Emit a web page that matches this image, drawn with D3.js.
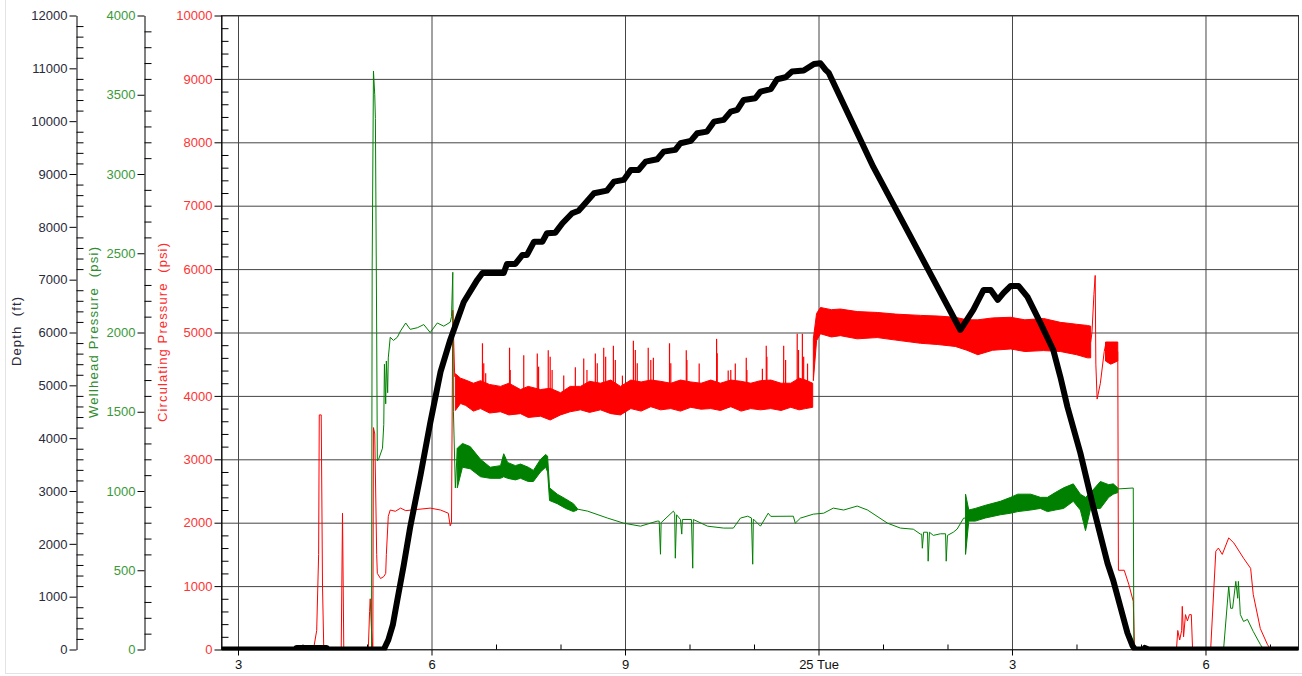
<!DOCTYPE html>
<html><head><meta charset="utf-8">
<script src="https://cdn.jsdelivr.net/npm/d3@7"></script>
<style>
body{margin:0;background:#fff}
svg{display:block}
text{font-family:"Liberation Sans",Arial,sans-serif}
</style>
</head><body>
<svg id="c" width="1302" height="676"></svg>
<script>
// ---------- DATA (time in hours since 24th 00:00) ----------
const xTickHours  = [15, 18, 21, 24, 27, 30];
const xTickLabels = ["3", "6", "9", "25 Tue", "3", "6"];
const xMinorHours = [16, 17, 19, 20, 22, 23, 25, 26, 28, 29, 31];

const depthTicks = [0,1000,2000,3000,4000,5000,6000,7000,8000,9000,10000,11000,12000];
const wellTicks  = [0,500,1000,1500,2000,2500,3000,3500,4000];
const circTicks  = [0,1000,2000,3000,4000,5000,6000,7000,8000,9000,10000];

// Bit depth (ft)
const depthT = [14.74,15.88,15.91,16.37,16.40,17.26,17.33,17.40,17.47,17.57,17.67,17.83,17.98,18.14,18.29,18.50,18.71,18.79,19.12,19.17,19.30,19.41,19.48,19.59,19.72,19.79,19.92,20.03,20.18,20.28,20.36,20.52,20.72,20.83,20.98,21.09,21.21,21.32,21.50,21.60,21.78,21.86,22.02,22.12,22.27,22.38,22.53,22.64,22.74,22.84,23.02,23.10,23.26,23.36,23.49,23.59,23.77,23.93,24.03,24.11,24.16,24.85,25.43,26.20,26.40,26.56,26.67,26.78,26.87,26.98,27.10,27.24,27.44,27.64,27.75,27.86,28.06,28.26,28.48,28.57,28.79,28.87,28.91,29.04,29.06,29.12,31.44];
const depthV = [0,0,30,30,0,0,180,464,937,1600,2319,3303,4288,5253,5859,6578,6995,7128,7128,7298,7298,7468,7468,7720,7720,7879,7890,8068,8257,8306,8414,8636,8685,8855,8888,9077,9077,9234,9280,9423,9456,9582,9626,9772,9802,9991,10024,10181,10213,10402,10434,10559,10605,10794,10832,10938,10957,11084,11097,10970,10913,9134,7809,6048,6427,6806,6806,6617,6749,6882,6882,6673,6181,5670,5159,4590,3720,2697,1637,1306,312,66,0,0,30,0,0];

// Circulating pressure (psi) - thin line segments
const circA_T = [14.74,16.17,16.22,16.25,16.26,16.29,16.31,16.33,16.60,16.62,16.64,17.02,17.04,17.05,17.07,17.09,17.10,17.12,17.15,17.16,17.21,17.26,17.29,17.30,17.33,17.36,17.44,17.52,17.60,17.98,18.14,18.26,18.29,18.31,18.33,18.36];
const circA_V = [0,0,300,1500,3700,3700,1000,0,0,2150,0,0,600,800,300,0,3500,3400,1500,1200,1120,1150,1200,1500,2100,2200,2180,2230,2190,2230,2200,2150,1950,2000,5350,4300];
// Circulating pressure noisy band 1 (drilling)
const circB1_T  = [18.37,18.45,18.53,18.65,18.76,18.90,19.07,19.20,19.38,19.50,19.69,19.84,20.00,20.15,20.31,20.45,20.62,20.78,20.93,21.09,21.25,21.40,21.55,21.71,21.86,22.02,22.18,22.33,22.48,22.64,22.80,22.95,23.10,23.26,23.42,23.57,23.70,23.80,23.91];
const circB1_Lo = [3770,3880,3850,3760,3800,3730,3750,3700,3720,3660,3680,3620,3700,3750,3780,3740,3780,3720,3700,3800,3760,3830,3780,3800,3760,3820,3790,3800,3770,3830,3760,3800,3780,3800,3770,3820,3780,3800,3820];
const circB1_Hi = [4350,4280,4250,4200,4240,4180,4150,4200,4100,4150,4100,4120,4050,4150,4150,4230,4200,4250,4150,4250,4220,4250,4230,4200,4250,4220,4200,4250,4200,4250,4230,4200,4240,4250,4200,4200,4280,4250,4200];
// Connection spikes on band 1
const circSpikeT = [18.79,18.81,18.84,19.21,19.22,19.43,19.64,19.66,19.81,19.84,19.87,20.05,20.23,20.36,20.41,20.54,20.57,20.67,20.70,20.82,20.85,20.96,21.13,21.16,21.19,21.36,21.40,21.44,21.69,21.71,21.95,21.96,22.15,22.42,22.43,22.60,22.64,22.71,22.88,22.89,23.13,23.19,23.20,23.46,23.49,23.67,23.69,23.75,23.77,23.83];
const circSpikeV = [4830,4514,4357,4760,4409,4640,4670,4461,4720,4619,4409,4320,4450,4590,4409,4670,4514,4760,4619,4790,4566,4320,4870,4724,4514,4760,4566,4600,4830,4514,4720,4566,4510,4900,4672,4400,4409,4510,4600,4409,4430,4790,4619,4790,4566,4980,4724,4980,4619,4510];
// Circulating pressure band 2 (tripping out)
const circB2_T  = [23.92,23.97,24.03,24.20,24.34,24.60,24.91,25.20,25.58,25.85,26.12,26.30,26.47,26.70,26.98,27.20,27.49,27.75,28.00,28.17,28.22];
const circB2_Lo = [4240,4870,4980,4930,4950,4900,4920,4880,4830,4810,4780,4720,4650,4720,4740,4700,4715,4700,4650,4600,4600];
const circB2_Hi = [4900,5300,5395,5360,5370,5330,5316,5290,5270,5260,5240,5200,5200,5230,5240,5200,5221,5160,5130,5111,5100];
const circC_T = [28.22,28.24,28.27,28.29,28.30,28.32,28.37,28.43,28.45];
const circC_V = [4850,5000,5600,5900,4500,3950,4200,4700,4800];
const circB3_T  = [28.45,28.53,28.64];
const circB3_Lo = [4550,4500,4550];
const circB3_Hi = [4850,4850,4850];
const circD_T = [28.64,28.65,28.74,28.81,28.88,28.90,29.55,29.57,29.60,29.63,29.64,29.66,29.69,29.72,29.75,29.78,29.80,30.08,30.16,30.20,30.26,30.36,30.44,30.59,30.70,30.74,30.85,30.96,31.01,31.44];
const circD_V = [4700,1250,1250,1030,760,0,0,300,150,300,680,200,550,450,550,550,0,0,1550,1600,1500,1760,1680,1440,1280,870,330,80,0,0];

// Wellhead pressure (psi)
const wellA_T = [14.74,17.07,17.08,17.10,17.12,17.13,17.15,17.16,17.18,17.24,17.26,17.27,17.29,17.30,17.32,17.33,17.36,17.41,17.47,17.52,17.60,17.67,17.78,17.88,17.98,18.09,18.19,18.29,18.31,18.33,18.34,18.37,18.40];
const wellA_V = [0,0,2400,3650,3500,3350,2000,1190,1200,1270,1420,1800,1550,1820,1620,1840,1970,1950,1970,2010,2060,2020,2030,2050,2000,2060,2040,2065,2100,2380,1500,1020,1270];
const wellB1_T  = [18.40,18.48,18.60,18.76,18.91,19.07,19.12,19.18,19.30,19.38,19.50,19.58,19.69,19.77,19.80,19.83,19.95,20.08,20.20,20.26];
const wellB1_Lo = [1020,1150,1140,1090,1080,1080,1090,1080,1070,1080,1060,1060,1120,1150,1120,940,920,890,870,880];
const wellB1_Hi = [1270,1300,1280,1200,1150,1160,1235,1180,1160,1170,1150,1130,1200,1230,1220,1020,980,950,920,890];
const wellC_T = [20.26,20.42,20.73,20.98,21.24,21.50,21.53,21.55,21.56,21.75,21.77,21.78,21.80,21.86,21.88,21.89,22.03,22.05,22.06,22.28,22.53,22.68,22.79,22.90,22.96,22.98,22.99,23.10,23.22,23.26,23.61,23.64,23.72,23.92,24.08,24.23,24.39,24.60,24.76,25.07,25.27,25.47,25.58,25.60,25.61,25.63,25.69,25.70,25.72,25.78,25.89,25.97,25.98,26.00,26.09,26.15,26.25,26.28];
const wellC_V = [886,873,829,797,778,810,810,601,800,873,860,576,850,820,728,820,820,513,820,778,766,766,829,841,830,538,823,778,860,840,841,797,829,854,860,892,880,905,880,797,766,759,728,728,639,740,740,557,740,720,730,730,557,720,740,760,829,829];
const wellB2_T  = [26.28,26.33,26.43,26.59,26.82,26.98,27.09,27.29,27.44,27.55,27.67,27.80,27.95,28.06,28.14,28.22,28.37,28.50,28.57,28.64];
const wellB2_Lo = [600,810,810,830,850,860,870,880,890,870,880,890,935,880,750,890,890,960,980,990];
const wellB2_Hi = [980,880,890,910,935,960,980,980,960,960,990,1020,1045,980,960,990,1060,1040,1045,1020];
const wellD_T = [28.64,28.88,28.89,30.28,30.36,30.39,30.42,30.47,30.50,30.51,30.53,30.54,30.59,30.65,30.74,30.85,30.90,31.44];
const wellD_V = [1013,1019,0,0,399,260,260,430,323,430,300,221,177,190,114,32,0,0];

// ---------- CHART ----------
const svg = d3.select("#c");
const L = 221.5, R = 1298.5, T = 15.5, B = 649.5;
const x = d3.scaleLinear().domain([14.744, 31.442]).range([L, R]);
const yD = d3.scaleLinear().domain([0, 12000]).range([B, T]);
const yW = d3.scaleLinear().domain([0, 4000]).range([B, T]);
const yC = d3.scaleLinear().domain([0, 10000]).range([B, T]);

const zip = (a, b) => a.map((v, i) => [v, b[i]]);
const zip3 = (a, b, c) => a.map((v, i) => [v, b[i], c[i]]);

// outer border of control
svg.append("rect").attr("x", 5.5).attr("y", -2).attr("width", 1300).attr("height", 675.5)
  .attr("fill", "none").attr("stroke", "#e3e3e3");

// grid
const gridCol = "#454545";
svg.append("g").attr("transform", `translate(${L},0)`)
  .call(d3.axisLeft(yC).tickValues(circTicks).tickSize(-(R - L)).tickFormat(""))
  .call(g => g.select(".domain").remove())
  .call(g => g.selectAll("line").attr("stroke", gridCol));
svg.append("g").attr("transform", `translate(0,${B})`)
  .call(d3.axisBottom(x).tickValues(xTickHours).tickSize(-(B - T)).tickFormat(""))
  .call(g => g.select(".domain").remove())
  .call(g => g.selectAll("line").attr("stroke", gridCol));
svg.append("rect").attr("x", L).attr("y", T).attr("width", R - L).attr("height", B - T)
  .attr("fill", "none").attr("stroke", "#333");

// clip
svg.append("clipPath").attr("id", "clip").append("rect")
  .attr("x", L).attr("y", T - 2).attr("width", R - L).attr("height", B - T + 3);
const plot = svg.append("g").attr("clip-path", "url(#clip)");

const RED = "#ff0000", GREEN = "#008000";
const lineC = d3.line().x(d => x(d[0])).y(d => yC(d[1]));
const lineW = d3.line().x(d => x(d[0])).y(d => yW(d[1]));
const areaC = d3.area().x(d => x(d[0])).y0(d => yC(d[1])).y1(d => yC(d[2]));
const areaW = d3.area().x(d => x(d[0])).y0(d => yW(d[1])).y1(d => yW(d[2]));

// circulating pressure
[[circA_T, circA_V], [circC_T, circC_V], [circD_T, circD_V]].forEach(([t, v]) =>
  plot.append("path").attr("d", lineC(zip(t, v))).attr("fill", "none").attr("stroke", RED).attr("stroke-width", 1));
[[circB1_T, circB1_Lo, circB1_Hi], [circB2_T, circB2_Lo, circB2_Hi], [circB3_T, circB3_Lo, circB3_Hi]].forEach(([t, lo, hi]) =>
  plot.append("path").attr("d", areaC(zip3(t, lo, hi))).attr("fill", RED).attr("stroke", RED).attr("stroke-width", 1));
plot.append("g").selectAll("line").data(zip(circSpikeT, circSpikeV)).join("line")
  .attr("x1", d => x(d[0])).attr("x2", d => x(d[0]))
  .attr("y1", yC(4000)).attr("y2", d => yC(d[1]))
  .attr("stroke", RED).attr("stroke-width", 1.2);

// wellhead pressure
[[wellA_T, wellA_V], [wellC_T, wellC_V], [wellD_T, wellD_V]].forEach(([t, v]) =>
  plot.append("path").attr("d", lineW(zip(t, v))).attr("fill", "none").attr("stroke", GREEN).attr("stroke-width", 1));
[[wellB1_T, wellB1_Lo, wellB1_Hi], [wellB2_T, wellB2_Lo, wellB2_Hi]].forEach(([t, lo, hi]) =>
  plot.append("path").attr("d", areaW(zip3(t, lo, hi))).attr("fill", GREEN).attr("stroke", GREEN).attr("stroke-width", 1));

// depth
plot.append("path")
  .attr("d", d3.line().x(d => x(d[0])).y(d => yD(d[1]))(zip(depthT, depthV)))
  .attr("fill", "none").attr("stroke", "#000").attr("stroke-width", 6)
  .attr("stroke-linejoin", "round").attr("stroke-linecap", "round");

// ---------- AXES ----------
function minors(scale, majors, step) {
  const [a, b] = scale.domain(); const out = [];
  for (let v = a; v <= b + 1e-9; v += step) if (!majors.includes(v)) out.push(v);
  return out;
}
function vAxis(xpos, scale, majors, step, color) {
  svg.append("g").attr("transform", `translate(${xpos},0)`)
    .call(d3.axisLeft(scale).tickValues(majors).tickSize(7).tickSizeOuter(0).tickPadding(2).tickFormat(d3.format("d")))
    .call(a => a.select(".domain").attr("stroke", "#000"))
    .call(a => a.selectAll("line").attr("stroke", "#000"))
    .call(a => a.selectAll("text").attr("fill", color).attr("font-size", 13).attr("font-family", "Liberation Sans, Arial, sans-serif"));
  svg.append("g").attr("transform", `translate(${xpos},0)`)
    .call(d3.axisRight(scale).tickValues(minors(scale, majors, step)).tickSize(7).tickSizeOuter(0).tickFormat(""))
    .call(a => a.select(".domain").remove())
    .call(a => a.selectAll("line").attr("stroke", "#000"));
}
vAxis(76.5, yD, depthTicks, 200, "#2a2a3a");
vAxis(144.5, yW, wellTicks, 100, "#3a9a3a");
vAxis(L, yC, circTicks, 200, "#ff3333");

// bottom axis
svg.append("g").attr("transform", `translate(0,${B})`)
  .call(d3.axisBottom(x).tickValues(xTickHours).tickSize(6).tickSizeOuter(0).tickPadding(4)
    .tickFormat((d, i) => xTickLabels[i]))
  .call(a => a.select(".domain").remove())
  .call(a => a.selectAll("line").attr("stroke", "#000"))
  .call(a => a.selectAll("text").attr("fill", "#111").attr("font-size", 13).attr("font-family", "Liberation Sans, Arial, sans-serif"));
svg.append("g").attr("transform", `translate(0,${B})`)
  .call(d3.axisTop(x).tickValues(xMinorHours).tickSize(5).tickSizeOuter(0).tickFormat(""))
  .call(a => a.select(".domain").remove())
  .call(a => a.selectAll("line").attr("stroke", "#000"));

// titles
const titles = [
  {text: "Depth  (ft)", x: 16, y: 331.5, len: 69, color: "#2a2a3a"},
  {text: "Wellhead Pressure  (psi)", x: 93, y: 332.5, len: 171, color: "#2e8b2e"},
  {text: "Circulating Pressure  (psi)", x: 162, y: 332.5, len: 179, color: "#ff2a2a"}
];
titles.forEach(d => svg.append("text")
  .attr("transform", `translate(${d.x},${d.y}) rotate(-90)`)
  .attr("text-anchor", "middle").attr("dy", "0.35em")
  .attr("font-size", 13).attr("font-family", "DejaVu Sans, Verdana, sans-serif").attr("fill", d.color)
  .attr("textLength", d.len).attr("lengthAdjust", "spacing")
  .style("white-space", "pre").text(d.text));
</script>
</body></html>
